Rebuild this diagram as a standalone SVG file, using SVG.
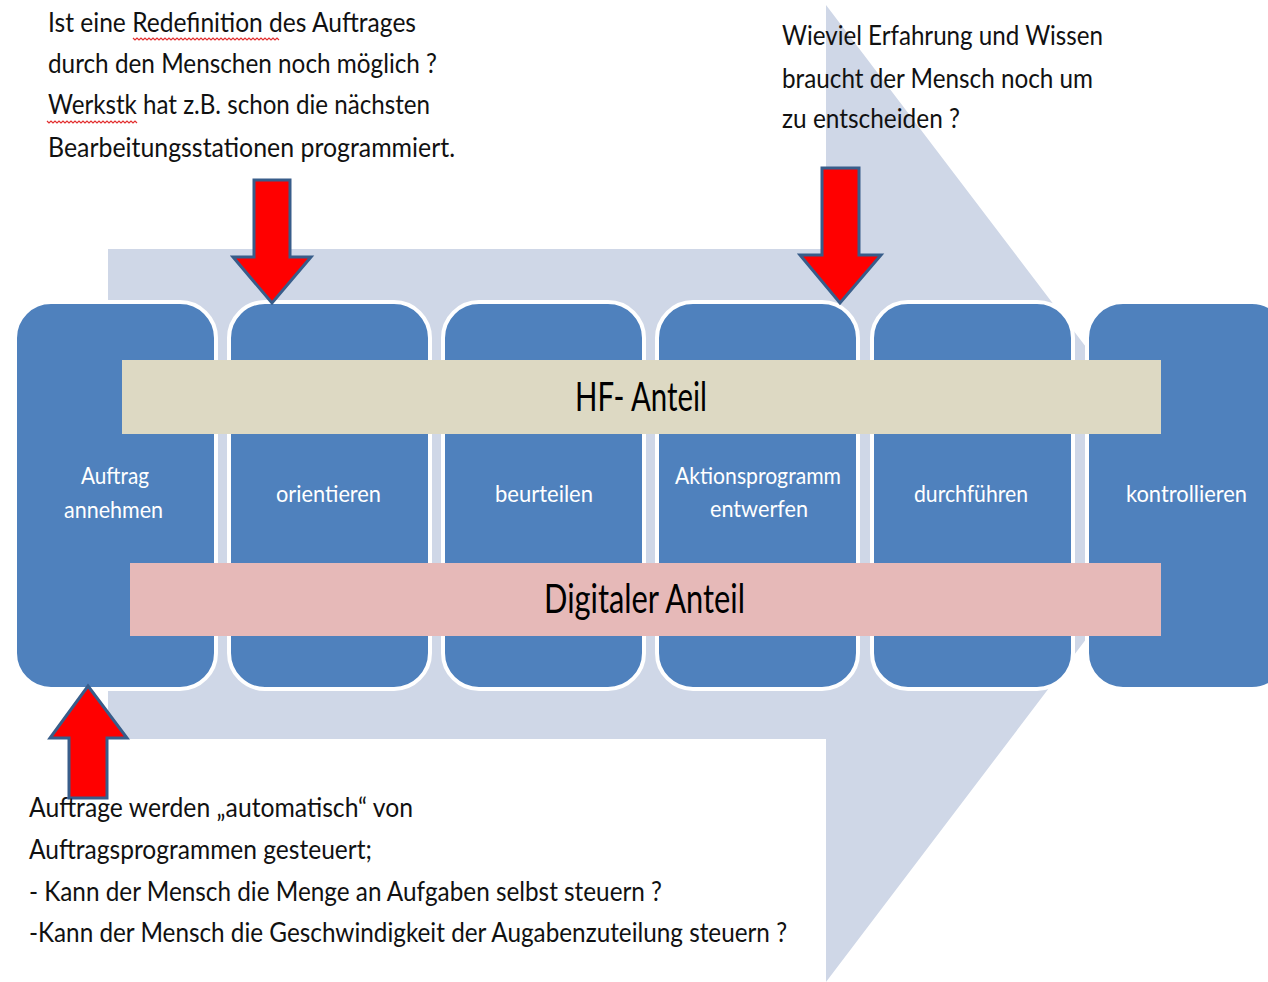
<svg xmlns="http://www.w3.org/2000/svg" width="1268" height="982" viewBox="0 0 1268 982">
  <defs>
    <style>
      .note { font-family: Lato, "Liberation Sans", sans-serif; font-size: 27px; fill: #111; }
      .step rect { fill: #4f81bd; stroke: #ffffff; stroke-width: 4; }
      .step text { font-family: Lato, "Liberation Sans", sans-serif; font-size: 23px; fill: #ffffff; text-anchor: start; }
      .band-label { font-family: Lato, "Liberation Sans", sans-serif; font-size: 40px; fill: #000; }
      .pointer { fill: #ff0000; stroke: #385d8a; stroke-width: 3; stroke-linejoin: miter; }
      .squiggle { fill: none; stroke: #e23030; stroke-width: 1.2; }
    </style>
  </defs>

  <rect width="1268" height="982" fill="#ffffff"/>

  <!-- large process arrow in the background -->
  <polygon id="process-arrow" points="108,249 826,249 826,5 1197,493 826,982 826,739 108,739" fill="#cfd7e7"/>

  <!-- process steps -->
  <g id="step-auftrag" class="step">
    <rect x="15" y="302" width="201" height="387" rx="36"/>
    <text x="81" y="484" textLength="68" lengthAdjust="spacingAndGlyphs">Auftrag</text>
    <text x="64" y="518" textLength="99" lengthAdjust="spacingAndGlyphs">annehmen</text>
  </g>
  <g id="step-orientieren" class="step">
    <rect x="229" y="302" width="201" height="387" rx="36"/>
    <text x="276" y="502" textLength="105" lengthAdjust="spacingAndGlyphs">orientieren</text>
  </g>
  <g id="step-beurteilen" class="step">
    <rect x="443" y="302" width="201" height="387" rx="36"/>
    <text x="495" y="502" textLength="98" lengthAdjust="spacingAndGlyphs">beurteilen</text>
  </g>
  <g id="step-aktionsprogramm" class="step">
    <rect x="657" y="302" width="201" height="387" rx="36"/>
    <text x="675" y="484" textLength="166" lengthAdjust="spacingAndGlyphs">Aktionsprogramm</text>
    <text x="710" y="517" textLength="98" lengthAdjust="spacingAndGlyphs">entwerfen</text>
  </g>
  <g id="step-durchfuehren" class="step">
    <rect x="872" y="302" width="201" height="387" rx="36"/>
    <text x="914" y="502" textLength="114" lengthAdjust="spacingAndGlyphs">durchführen</text>
  </g>
  <g id="step-kontrollieren" class="step">
    <rect x="1087" y="302" width="201" height="387" rx="36"/>
    <text x="1126" y="502" textLength="121" lengthAdjust="spacingAndGlyphs">kontrollieren</text>
  </g>

  <!-- share bands across the steps -->
  <g id="band-hf">
    <rect x="122" y="360" width="1039" height="74" fill="#ddd9c3"/>
    <text class="band-label" x="575" y="411" textLength="132" lengthAdjust="spacingAndGlyphs">HF- Anteil</text>
  </g>
  <g id="band-digital">
    <rect x="130" y="563" width="1031" height="73" fill="#e6b9b8"/>
    <text class="band-label" x="544" y="613" textLength="201" lengthAdjust="spacingAndGlyphs">Digitaler Anteil</text>
  </g>

  <!-- red pointers -->
  <g id="connectors">
    <polygon class="pointer" points="254,180 290,180 290,257 311,257 272,303 233,257 254,257"/>
    <polygon class="pointer" points="822,168 859,168 859,255 881,255 840,303 800,255 822,255"/>
    <polygon class="pointer" points="88,686 127,738 107,738 107,798 69,798 69,738 50,738"/>
  </g>

  <!-- annotation: top left -->
  <g id="note-redefinition">
    <text class="note" x="48" y="32" textLength="368" lengthAdjust="spacingAndGlyphs">Ist eine Redefinition des Auftrages</text>
    <text class="note" x="48" y="73" textLength="389" lengthAdjust="spacingAndGlyphs">durch den Menschen noch möglich ?</text>
    <text class="note" x="48" y="114" textLength="382" lengthAdjust="spacingAndGlyphs">Werkstk hat z.B. schon die nächsten</text>
    <text class="note" x="48" y="157" textLength="407" lengthAdjust="spacingAndGlyphs">Bearbeitungsstationen programmiert.</text>
    <path class="squiggle" d="M133,38 l2,2 l2,-2 l2,2 l2,-2 l2,2 l2,-2 l2,2 l2,-2 l2,2 l2,-2 l2,2 l2,-2 l2,2 l2,-2 l2,2 l2,-2 l2,2 l2,-2 l2,2 l2,-2 l2,2 l2,-2 l2,2 l2,-2 l2,2 l2,-2 l2,2 l2,-2 l2,2 l2,-2 l2,2 l2,-2 l2,2 l2,-2 l2,2 l2,-2 l2,2 l2,-2 l2,2 l2,-2 l2,2 l2,-2 l2,2 l2,-2 l2,2 l2,-2 l2,2 l2,-2 l2,2 l2,-2 l2,2 l2,-2 l2,2 l2,-2 l2,2 l2,-2 l2,2 l2,-2 l2,2 l2,-2 l2,2 l2,-2 l2,2 l2,-2 l2,2 l2,-2 l2,2 l2,-2 l2,2 l2,-2 l2,2 l2,-2 l2,2"/>
    <path class="squiggle" d="M47,121 l2,2 l2,-2 l2,2 l2,-2 l2,2 l2,-2 l2,2 l2,-2 l2,2 l2,-2 l2,2 l2,-2 l2,2 l2,-2 l2,2 l2,-2 l2,2 l2,-2 l2,2 l2,-2 l2,2 l2,-2 l2,2 l2,-2 l2,2 l2,-2 l2,2 l2,-2 l2,2 l2,-2 l2,2 l2,-2 l2,2 l2,-2 l2,2 l2,-2 l2,2 l2,-2 l2,2 l2,-2 l2,2 l2,-2 l2,2 l2,-2 l2,2"/>
  </g>

  <!-- annotation: top right -->
  <g id="note-erfahrung">
    <text class="note" x="782" y="45" textLength="321" lengthAdjust="spacingAndGlyphs">Wieviel Erfahrung und Wissen</text>
    <text class="note" x="782" y="88" textLength="311" lengthAdjust="spacingAndGlyphs">braucht der Mensch noch um</text>
    <text class="note" x="782" y="128" textLength="178" lengthAdjust="spacingAndGlyphs">zu entscheiden ?</text>
  </g>

  <!-- annotation: bottom -->
  <g id="note-auftraege">
    <text class="note" x="29" y="817" textLength="384" lengthAdjust="spacingAndGlyphs">Auftrage werden „automatisch“ von</text>
    <text class="note" x="29" y="859" textLength="343" lengthAdjust="spacingAndGlyphs">Auftragsprogrammen gesteuert;</text>
    <text class="note" x="29" y="901" textLength="633" lengthAdjust="spacingAndGlyphs">- Kann der Mensch die Menge an Aufgaben selbst steuern ?</text>
    <text class="note" x="29" y="942" textLength="758" lengthAdjust="spacingAndGlyphs">-Kann der Mensch die Geschwindigkeit der Augabenzuteilung steuern ?</text>
  </g>
</svg>
